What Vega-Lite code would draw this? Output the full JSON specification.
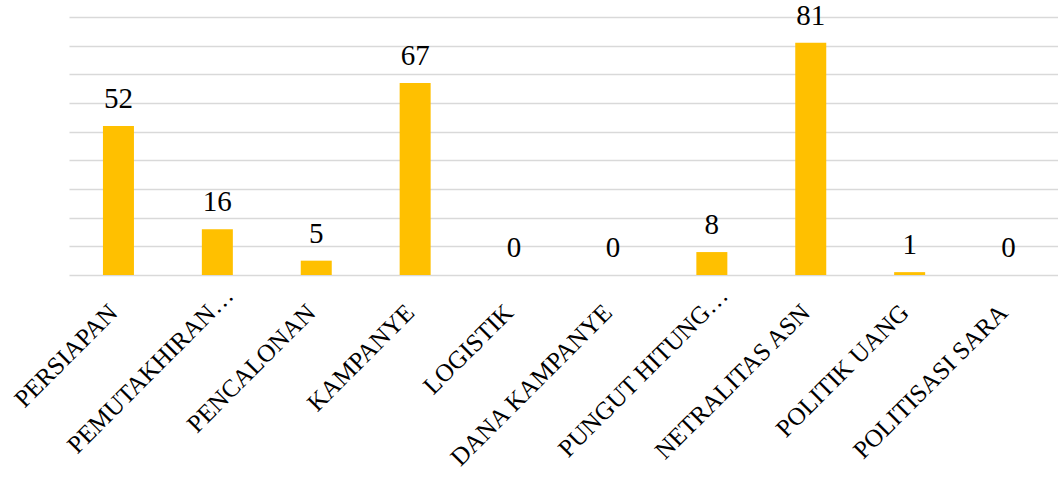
{
  "$schema": "https://vega.github.io/schema/vega-lite/v6.json",
  "autosize": {"type": "none"},
  "padding": {"left": 69, "top": 17, "right": 0, "bottom": 202},
  "width": 989,
  "height": 258,
  "background": "white",
  "config": {"view": {"stroke": null}, "font": "Liberation Serif"},
  "data": {
    "values": [
      {"kategori": "PERSIAPAN", "jumlah": 52},
      {"kategori": "PEMUTAKHIRAN…", "jumlah": 16},
      {"kategori": "PENCALONAN", "jumlah": 5},
      {"kategori": "KAMPANYE", "jumlah": 67},
      {"kategori": "LOGISTIK", "jumlah": 0},
      {"kategori": "DANA KAMPANYE", "jumlah": 0},
      {"kategori": "PUNGUT HITUNG…", "jumlah": 8},
      {"kategori": "NETRALITAS ASN", "jumlah": 81},
      {"kategori": "POLITIK UANG", "jumlah": 1},
      {"kategori": "POLITISASI SARA", "jumlah": 0}
    ]
  },
  "encoding": {
    "x": {
      "field": "kategori",
      "type": "nominal",
      "sort": null,
      "scale": {"paddingInner": 0, "paddingOuter": 0},
      "axis": {
        "title": null,
        "labelAngle": -45,
        "labelAlign": "right",
        "labelBaseline": "middle",
        "labelFont": "Liberation Serif",
        "labelFontSize": 25,
        "labelColor": "#000000",
        "labelPadding": {"condition": {"test": "datum.value === 'PEMUTAKHIRAN…' || datum.value === 'PUNGUT HITUNG…'", "value": 16}, "value": 33},
        "labelOffset": {"condition": {"test": "datum.value === 'PEMUTAKHIRAN…' || datum.value === 'PUNGUT HITUNG…'", "value": 12}, "value": -5},
        "labelLimit": 400,
        "ticks": false,
        "domain": false,
        "grid": false
      }
    },
    "y": {
      "field": "jumlah",
      "type": "quantitative",
      "scale": {"domain": [0, 90], "nice": false},
      "axis": {
        "title": null,
        "labels": false,
        "ticks": false,
        "domain": false,
        "values": [0, 10, 20, 30, 40, 50, 60, 70, 80, 90],
        "gridColor": "#D9D9D9",
        "gridWidth": 1.5
      }
    }
  },
  "layer": [
    {"mark": {"type": "bar", "color": "#FFC000", "size": 31}},
    {
      "mark": {"type": "text", "baseline": "alphabetic", "dy": -18, "font": "Liberation Serif", "fontSize": 29, "color": "#000000"},
      "encoding": {"text": {"field": "jumlah", "type": "quantitative"}}
    }
  ]
}
